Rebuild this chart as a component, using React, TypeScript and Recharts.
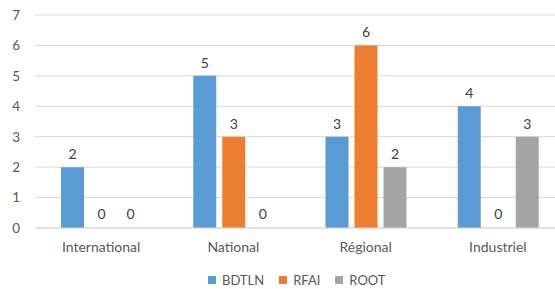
import React from "react";
import { BarChart, Bar, XAxis, YAxis, CartesianGrid, Legend, LabelList, Rectangle } from "recharts";

const categories = ["International", "National", "Régional", "Industriel"];
const bdtln = [2, 5, 3, 4];
const rfai = [0, 3, 6, 0];
const root = [0, 0, 2, 3];
const yTicks = [0, 1, 2, 3, 4, 5, 6, 7];

const data = categories.map((c, i) => ({ name: c, BDTLN: bdtln[i], RFAI: rfai[i], ROOT: root[i] }));

const seriesDefs = [
  { key: "BDTLN", color: "#5B9BD5" },
  { key: "RFAI", color: "#ED7D31" },
  { key: "ROOT", color: "#A5A5A5" },
];

const FONT = "Lato, 'Open Sans', sans-serif";
const TXT = "#595959";

const renderLabel = (props: any) => {
  const { x, y, width, height, value } = props;
  const top = Math.min(Number(y), Number(y) + Number(height || 0));
  return (
    <text
      x={Number(x) + Number(width) / 2}
      y={top - 8}
      textAnchor="middle"
      fill="#404040"
      fontSize={14}
      fontFamily={FONT}
    >
      {String(value)}
    </text>
  );
};

const BarShape = (props: any) => {
  const v = Number(props.value);
  if (!v) return <g />;
  return <Rectangle {...props} />;
};

const LegendContent = () => (
  <div style={{ display: "flex", alignItems: "center", fontFamily: FONT, fontSize: 13, color: TXT, whiteSpace: "nowrap" }}>
    {seriesDefs.map((s, i) => (
      <div key={s.key} style={{ display: "flex", alignItems: "center", marginRight: i < seriesDefs.length - 1 ? 15 : 0 }}>
        <svg width={8} height={8} style={{ marginRight: 6 }}>
          <rect width={8} height={8} fill={s.color} />
        </svg>
        <span>{s.key}</span>
      </div>
    ))}
  </div>
);

export default function App() {
  return (
    <div style={{ position: "absolute", left: 0, top: 0, width: 555, height: 289, overflow: "hidden", background: "#fff" }}>
      <BarChart
        width={570}
        height={289}
        data={data}
        margin={{ top: 15, right: 6, bottom: 1, left: 0 }}
        barGap={6}
        barSize={23}
        style={{ fontFamily: FONT }}
      >
        <CartesianGrid vertical={false} stroke="#d9d9d9" strokeWidth={1} />
        <XAxis
          dataKey="name"
          height={44}
          axisLine={{ stroke: "#d9d9d9" }}
          tickLine={false}
          tickSize={0}
          tickMargin={14}
          tick={{ fill: TXT, fontSize: 14, fontFamily: FONT }}
        />
        <YAxis
          width={35}
          domain={[0, 7]}
          ticks={yTicks}
          axisLine={false}
          tickLine={false}
          tickSize={0}
          tickMargin={15}
          tick={{ fill: TXT, fontSize: 13.5, fontFamily: FONT }}
        />
        <Legend
          verticalAlign="bottom"
          content={<LegendContent />}
          wrapperStyle={{ left: 208, width: "auto", height: 16 }}
        />
        {seriesDefs.map((s) => (
          <Bar
            key={s.key}
            dataKey={s.key}
            fill={s.color}
            minPointSize={1}
            shape={<BarShape />}
            isAnimationActive={false}
          >
            <LabelList dataKey={s.key} content={renderLabel} />
          </Bar>
        ))}
      </BarChart>
    </div>
  );
}
